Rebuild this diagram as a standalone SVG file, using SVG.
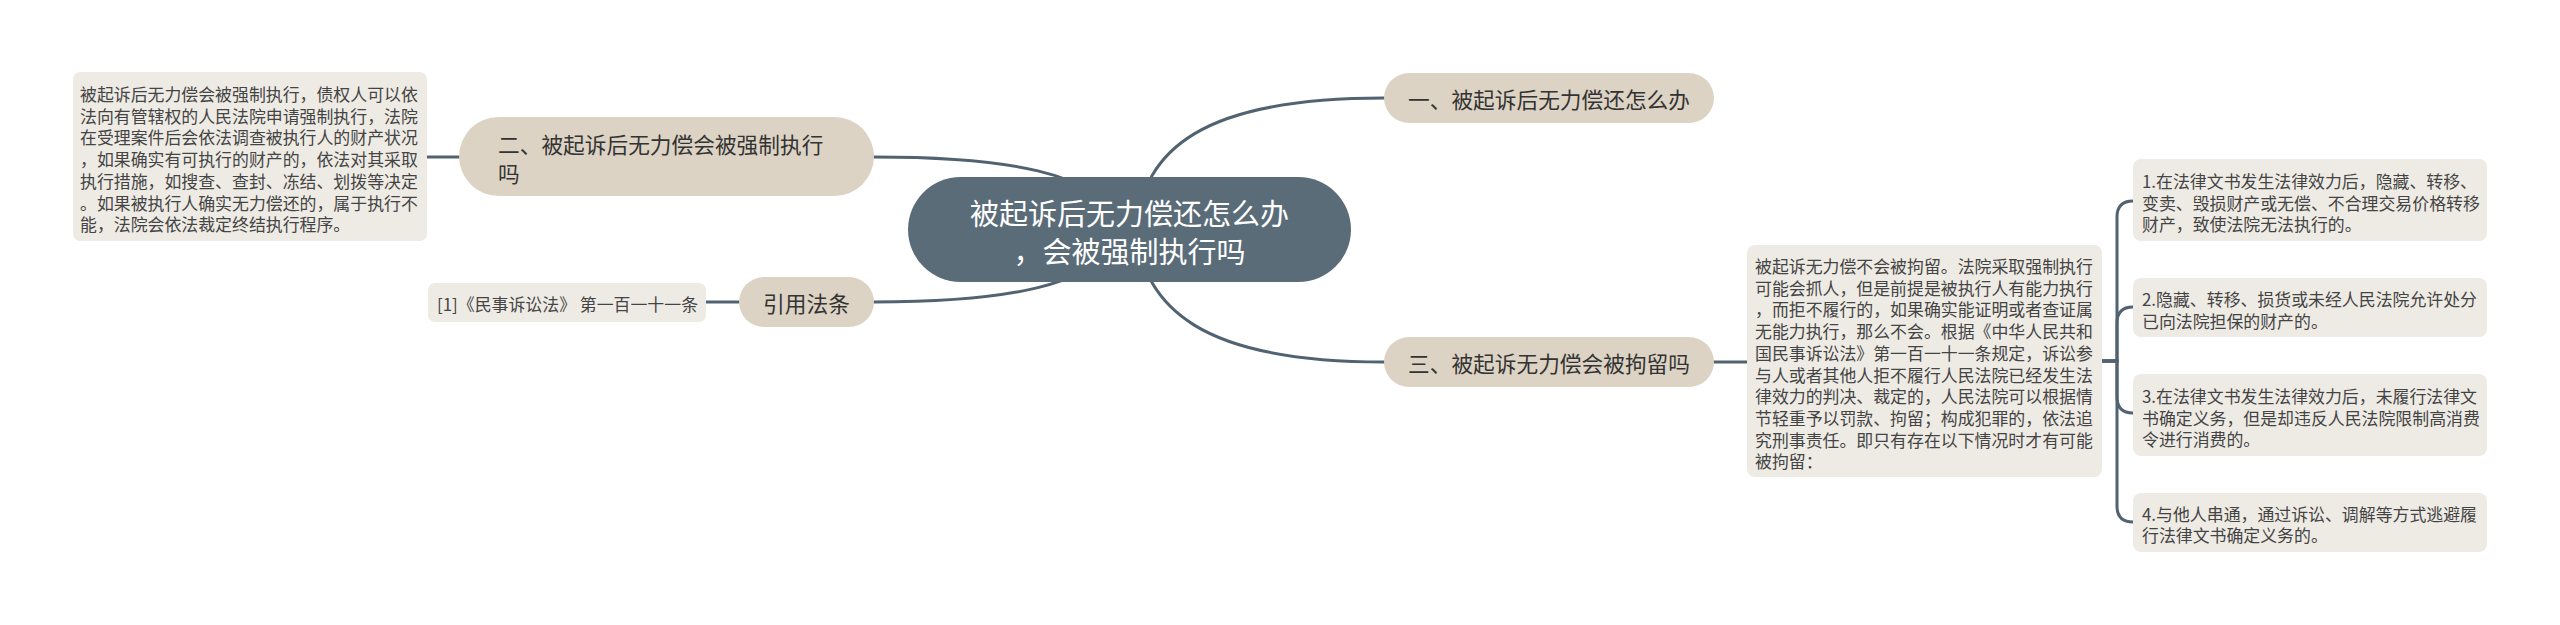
<svg xmlns="http://www.w3.org/2000/svg" width="2560" height="625" viewBox="0 0 2560 625">
<style>
.conn{fill:none;stroke:#516271;stroke-width:3;stroke-linecap:round}
.root{fill:#5b6c79}
.lvl{fill:#ddd3c4}
.det{fill:#eeebe4}
text{font-family:"Noto Sans CJK SC","Noto Sans",sans-serif;dominant-baseline:central}
.rt{fill:#ffffff;font-size:29px}
.lt{fill:#333333;font-size:21.7px}
.dt{fill:#444444;font-size:16.9px}
</style>
<rect width="2560" height="625" fill="#ffffff"/>
<g id="connectors">
<path class="conn" d="M1135 229 C1145 150 1200 98 1384 98"/>
<path class="conn" d="M1135 229 C1145 308 1200 362 1384 362"/>
<path class="conn" d="M1129 229 C1100 170 1000 157 874 157"/>
<path class="conn" d="M1129 229 C1100 288 1000 302 874 302"/>
<path class="conn" d="M459 157 H427"/>
<path class="conn" d="M739 302 H706"/>
<path class="conn" d="M1713 362 H1747"/>
<path class="conn" d="M2102 361 H2117 V217 Q2117 201 2133 201"/>
<path class="conn" d="M2102 361 H2117 V323 Q2117 307 2133 307"/>
<path class="conn" d="M2102 361 H2117 V397 Q2117 413 2133 413"/>
<path class="conn" d="M2102 361 H2117 V506 Q2117 522 2133 522"/>
</g>
<g id="root">
<rect class="root" x="908" y="177" width="443" height="105" rx="52.5"/>
<text class="rt" text-anchor="middle"><tspan x="1129.5" y="212">被起诉后无力偿还怎么办</tspan><tspan x="1129.5" y="250">，会被强制执行吗</tspan></text>
</g>
<g id="n1">
<rect class="lvl" x="1384" y="73" width="330" height="50" rx="25"/>
<text class="lt" x="1408" y="98">一、被起诉后无力偿还怎么办</text>
</g>
<g id="n2">
<rect class="lvl" x="459" y="117" width="415" height="79" rx="39.5"/>
<text class="lt"><tspan x="498" y="143">二、被起诉后无力偿会被强制执行</tspan><tspan x="498" y="172">吗</tspan></text>
</g>
<g id="n2d">
<rect class="det" x="73" y="72" width="354" height="169" rx="7"/>
<text class="dt"><tspan x="80" y="93">被起诉后无力偿会被强制执行，债权人可以依</tspan><tspan x="80" y="114.7">法向有管辖权的人民法院申请强制执行，法院</tspan><tspan x="80" y="136.4">在受理案件后会依法调查被执行人的财产状况</tspan><tspan x="80" y="158.1">，如果确实有可执行的财产的，依法对其采取</tspan><tspan x="80" y="179.8">执行措施，如搜查、查封、冻结、划拨等决定</tspan><tspan x="80" y="201.5">。如果被执行人确实无力偿还的，属于执行不</tspan><tspan x="80" y="223.2">能，法院会依法裁定终结执行程序。</tspan></text>
</g>
<g id="ref">
<rect class="lvl" x="739" y="277" width="135" height="50" rx="25"/>
<text class="lt" x="806.5" y="302" text-anchor="middle">引用法条</text>
</g>
<g id="refd">
<rect class="det" x="428" y="283" width="278" height="39" rx="7"/>
<text class="dt" x="437" y="303">[1]《民事诉讼法》 第一百一十一条</text>
</g>
<g id="n3">
<rect class="lvl" x="1384" y="337" width="330" height="50" rx="25"/>
<text class="lt" x="1408" y="362">三、被起诉无力偿会被拘留吗</text>
</g>
<g id="n3d">
<rect class="det" x="1747" y="245" width="355" height="232" rx="8"/>
<text class="dt"><tspan x="1755" y="265">被起诉无力偿不会被拘留。法院采取强制执行</tspan><tspan x="1755" y="286.7">可能会抓人，但是前提是被执行人有能力执行</tspan><tspan x="1755" y="308.4">，而拒不履行的，如果确实能证明或者查证属</tspan><tspan x="1755" y="330.1">无能力执行，那么不会。根据《中华人民共和</tspan><tspan x="1755" y="351.8">国民事诉讼法》第一百一十一条规定，诉讼参</tspan><tspan x="1755" y="373.5">与人或者其他人拒不履行人民法院已经发生法</tspan><tspan x="1755" y="395.2">律效力的判决、裁定的，人民法院可以根据情</tspan><tspan x="1755" y="416.9">节轻重予以罚款、拘留；构成犯罪的，依法追</tspan><tspan x="1755" y="438.6">究刑事责任。即只有存在以下情况时才有可能</tspan><tspan x="1755" y="460.3">被拘留：</tspan></text>
</g>
<g id="c1">
<rect class="det" x="2133" y="159" width="354" height="82" rx="8"/>
<text class="dt"><tspan x="2142" y="180">1.在法律文书发生法律效力后，隐藏、转移、</tspan><tspan x="2142" y="201.7">变卖、毁损财产或无偿、不合理交易价格转移</tspan><tspan x="2142" y="223.4">财产，致使法院无法执行的。</tspan></text>
</g>
<g id="c2">
<rect class="det" x="2133" y="278" width="354" height="59" rx="8"/>
<text class="dt"><tspan x="2142" y="298">2.隐藏、转移、损货或未经人民法院允许处分</tspan><tspan x="2142" y="319.7">已向法院担保的财产的。</tspan></text>
</g>
<g id="c3">
<rect class="det" x="2133" y="374" width="354" height="82" rx="8"/>
<text class="dt"><tspan x="2142" y="395">3.在法律文书发生法律效力后，未履行法律文</tspan><tspan x="2142" y="416.7">书确定义务，但是却违反人民法院限制高消费</tspan><tspan x="2142" y="438.4">令进行消费的。</tspan></text>
</g>
<g id="c4">
<rect class="det" x="2133" y="493" width="354" height="59" rx="8"/>
<text class="dt"><tspan x="2142" y="512.5">4.与他人串通，通过诉讼、调解等方式逃避履</tspan><tspan x="2142" y="534.2">行法律文书确定义务的。</tspan></text>
</g>
</svg>
